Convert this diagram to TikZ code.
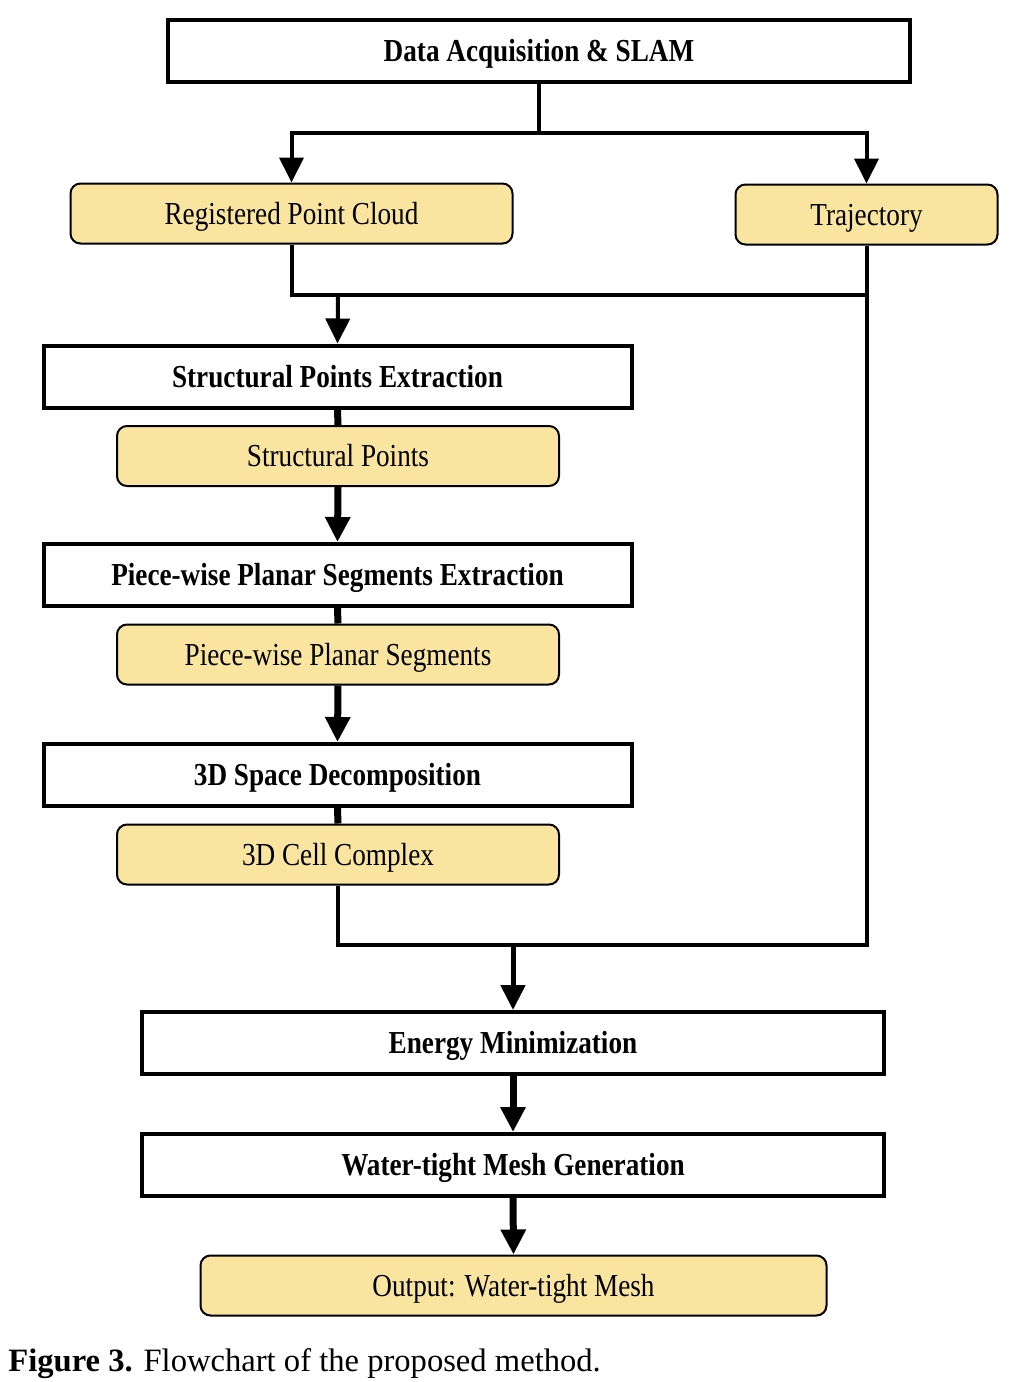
\documentclass[tikz,border=0pt]{standalone}
\usepackage{fontspec}
\setmainfont{Liberation Serif}[FakeStretch=0.85]
\newfontfamily\capfont{Liberation Serif}
\usetikzlibrary{arrows.meta}
\definecolor{boxyellow}{RGB}{250,229,160}

\begin{document}
\begin{tikzpicture}[x=0.5pt, y=-0.5pt,
    step box/.style={draw, line width=2pt, minimum height=31pt, inner sep=0pt,
      text height=10.5pt, text depth=0pt, font=\fontsize{16}{19}\selectfont\bfseries},
    data box/.style={draw, line width=1pt, rounded corners=5pt, fill=boxyellow,
      minimum height=30pt, inner sep=0pt, text height=10.5pt, text depth=0pt,
      font=\fontsize{16}{19}\selectfont},
    thin line/.style={line width=2pt},
    thick line/.style={line width=3.5pt},
    arr/.style={-{Triangle[width=12pt,length=12.5pt]}}]
      \useasboundingbox (0, 0) rectangle (1014, 1382);
      % boxes
      \node[step box, minimum width=371pt] (acq) at (539, 51) {Data Acquisition \& SLAM};
      \node[data box, minimum width=221pt] (rpc) at (291.5, 213.5) {Registered Point Cloud};
      \node[data box, minimum width=131pt] (traj) at (866.5, 214.5) {Trajectory};
      \node[step box, minimum width=294pt] (spe) at (337.5, 376.5) {Structural Points Extraction};
      \node[data box, minimum width=221pt] (sp) at (338, 456) {Structural Points};
      \node[step box, minimum width=294pt] (pse) at (337.5, 575) {Piece-wise Planar Segments Extraction};
      \node[data box, minimum width=221pt] (ps) at (338, 654.5) {Piece-wise Planar Segments};
      \node[step box, minimum width=294pt] (sd) at (337.5, 775) {3D Space Decomposition};
      \node[data box, minimum width=221pt] (cc) at (338, 854.5) {3D Cell Complex};
      \node[step box, minimum width=371pt] (em) at (513, 1043) {Energy Minimization};
      \node[step box, minimum width=371pt] (wmg) at (513, 1165) {Water-tight Mesh Generation};
      \node[data box, minimum width=313pt] (out) at (513.5, 1285.5) {Output: Water-tight Mesh};
      % junctions
      \coordinate (split) at (539, 133);
      \coordinate (j1) at (338, 295);
      \coordinate (j2) at (513, 945);
      % connectors
      \draw[thin line] (acq.south) -- (split);
      \draw[thin line, arr] (split) -| (rpc.north);
      \draw[thin line, arr] (split) -| (traj.north);
      \draw[thin line] (rpc.south) |- (j1) -- (j1 -| traj.south);
      \draw[thin line, arr] (j1) -- (spe.north);
      \draw[thin line] (traj.south) |- (j2) -| (cc.south);
      \draw[line width=2.5pt, arr] (j2) -- (em.north);
      \draw[thick line] (spe.south) -- (sp.north);
      \draw[thick line, arr] (sp.south) -- (pse.north);
      \draw[thick line] (pse.south) -- (ps.north);
      \draw[thick line, arr] (ps.south) -- (sd.north);
      \draw[thick line] (sd.south) -- (cc.north);
      \draw[thick line, arr] (em.south) -- (wmg.north);
      \draw[thick line, arr] (wmg.south) -- (out.north);
      % caption
      \node[anchor=base west, inner sep=0pt, font=\capfont\fontsize{16.3}{19}\selectfont] (cap) at (8, 1371)
        {\textbf{Figure 3.} Flowchart of the proposed method.};
    \end{tikzpicture}
\end{document}
